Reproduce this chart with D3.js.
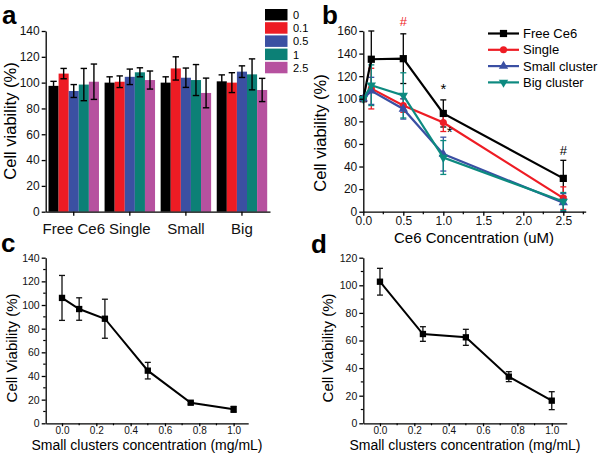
<!DOCTYPE html>
<html><head><meta charset="utf-8">
<script src="https://cdn.jsdelivr.net/npm/d3@7"></script>
<style>
body{margin:0;background:#fff;}
svg{display:block;font-family:Arial,"Liberation Sans",sans-serif;}
</style></head>
<body>
<svg id="chart" width="600" height="456"></svg>
<script>
// ---------- Panel a data ----------
const groupsA = ["Free Ce6", "Single", "Small", "Big"];
const levelsA = ["0", "0.1", "0.5", "1", "2.5"];
const valuesFreeA = [97.5, 107, 93.5, 98.5, 100.7];
const valuesSingleA = [100, 100.7, 104.5, 108, 102];
const valuesSmallA = [100, 111, 103.8, 102, 92];
const valuesBigA = [101, 100, 108.5, 106.4, 94.3];
const errFreeA = [3.5, 4, 5, 12.5, 13.7];
const errSingleA = [4.5, 4.5, 6, 3.5, 7];
const errSmallA = [4.5, 9, 7.5, 12, 11.5];
const errBigA = [5, 7.7, 4.5, 12, 9];
const yTicksA = [0, 20, 40, 60, 80, 100, 120, 140];

// ---------- Panel b data ----------
const concB = [0, 0.1, 0.5, 1.0, 2.5];
const seriesB = ["Free Ce6", "Single", "Small cluster", "Big cluster"];
const valuesFreeB = [100, 135, 135.5, 87, 29.5];
const valuesSingleB = [100, 109, 94, 79, 12];
const valuesSmallB = [100, 107, 91, 51, 8];
const valuesBigB = [100, 112, 103, 48, 9];
const errFreeB = [2, 25, 22, 12, 16];
const errSingleB = [2, 18, 6, 8, 10];
const errSmallB = [2, 12, 9, 15, 8];
const errBigB = [2, 18, 20, 15, 8];
const xTicksB = [0, 0.5, 1.0, 1.5, 2.0, 2.5];
const yTicksB = [0, 20, 40, 60, 80, 100, 120, 140, 160];

// ---------- Panel c data ----------
const concC = [0, 0.1, 0.25, 0.5, 0.75, 1.0];
const valuesC = [106, 96.6, 88.4, 44.5, 17.4, 11.8];
const errC = [19, 9.5, 16.5, 7, 1.2, 2.5];
const xTicksCD = [0, 0.2, 0.4, 0.6, 0.8, 1.0];
const yTicksC = [0, 20, 40, 60, 80, 100, 120, 140];

// ---------- Panel d data ----------
const concD = [0, 0.25, 0.5, 0.75, 1.0];
const valuesD = [102.6, 64.7, 62.3, 33.8, 16.4];
const errD = [9.7, 5.3, 5.8, 3.6, 6.5];
const yTicksD = [0, 20, 40, 60, 80, 100, 120];

// ---------- styling ----------
const barColors = ["#000000", "#ed1c24", "#3b50a2", "#0c8076", "#b6519f"];
const lineColors = ["#000000", "#ee1c24", "#3a4fa3", "#0d8a80"];
const FONT = 'Arial, "Liberation Sans", sans-serif';

const svg = d3.select("#chart");

function styleAxis(g, fs) {
  g.select(".domain").attr("stroke", "#000").attr("stroke-width", 1.3);
  g.selectAll(".tick line").attr("stroke", "#000").attr("stroke-width", 1.3);
  g.selectAll(".tick text").attr("font-size", fs).attr("font-family", FONT).attr("fill", "#111");
  g.attr("font-family", FONT);
}
function minorTicks(g, scale, vals, orient, len) {
  vals.forEach(v => {
    const p = scale(v);
    const l = orient === "left"
      ? g.append("line").attr("x1", 0).attr("x2", -len).attr("y1", p).attr("y2", p)
      : g.append("line").attr("y1", 0).attr("y2", len).attr("x1", p).attr("x2", p);
    l.attr("stroke", "#000").attr("stroke-width", 1.2);
  });
}
function panelLabel(txt, x, y) {
  svg.append("text").attr("x", x).attr("y", y).text(txt)
    .attr("font-size", 26).attr("font-weight", "bold").attr("font-family", FONT);
}
function vTitle(txt, x, y, fs) {
  svg.append("text").attr("transform", `translate(${x},${y}) rotate(-90)`)
    .attr("text-anchor", "middle").attr("font-size", fs).attr("font-family", FONT).text(txt);
}
function hTitle(txt, x, y, fs) {
  svg.append("text").attr("x", x).attr("y", y).attr("text-anchor", "middle")
    .attr("font-size", fs).attr("font-family", FONT).text(txt);
}

// =============== Panel a ===============
(function () {
  const dataA = [valuesFreeA, valuesSingleA, valuesSmallA, valuesBigA];
  const errA = [errFreeA, errSingleA, errSmallA, errBigA];
  const x = d3.scaleBand().domain(groupsA).range([45.7, 270]).paddingInner(0.1).paddingOuter(0.05);
  const xs = d3.scaleBand().domain(levelsA).range([0, x.bandwidth()]);
  const y = d3.scaleLinear().domain([0, 140]).range([211.7, 31]);
  const g = svg.append("g");
  groupsA.forEach((grp, gi) => {
    const gg = g.append("g").attr("transform", `translate(${x(grp)},0)`);
    levelsA.forEach((lv, li) => {
      const v = dataA[gi][li], e = errA[gi][li];
      gg.append("rect").attr("x", xs(lv)).attr("width", xs.bandwidth())
        .attr("y", y(v)).attr("height", y(0) - y(v)).attr("fill", barColors[li]);
      const cx = xs(lv) + xs.bandwidth() / 2;
      gg.append("line").attr("x1", cx).attr("x2", cx).attr("y1", y(v - e)).attr("y2", y(v + e))
        .attr("stroke", "#000").attr("stroke-width", 1.4);
      [v - e, v + e].forEach(t => gg.append("line").attr("x1", cx - 3.2).attr("x2", cx + 3.2)
        .attr("y1", y(t)).attr("y2", y(t)).attr("stroke", "#000").attr("stroke-width", 1.4));
    });
  });
  const ax = svg.append("g").attr("transform", "translate(45.7,0)")
    .call(d3.axisLeft(y).tickValues(yTicksA).tickSize(4).tickPadding(2).tickSizeOuter(0));
  styleAxis(ax, 12);
  const bx = svg.append("g").attr("transform", "translate(0,211.7)")
    .call(d3.axisBottom(x).tickSize(4).tickSizeOuter(0).tickPadding(5));
  styleAxis(bx, 15);
  bx.selectAll(".tick text").attr("dy", "0.9em");
  vTitle("Cell viability (%)", 16, 121, 16.5);
  panelLabel("a", 2, 24);
  const lg = svg.append("g");
  levelsA.forEach((lv, i) => {
    lg.append("rect").attr("x", 265).attr("y", 9 + i * 13.2).attr("width", 22.5).attr("height", 11.5)
      .attr("fill", barColors[i]);
    lg.append("text").attr("x", 293).attr("y", 9 + i * 13.2 + 10).attr("font-size", 11)
      .attr("font-family", FONT).text(lv);
  });
})();

// =============== Panel b ===============
(function () {
  const vals = [valuesFreeB, valuesSingleB, valuesSmallB, valuesBigB];
  const errs = [errFreeB, errSingleB, errSmallB, errBigB];
  const x = d3.scaleLinear().domain([0, 2.78]).range([363.3, 585.7]);
  const y = d3.scaleLinear().domain([0, 160]).range([211.7, 31]);
  const symbols = [d3.symbolSquare, d3.symbolCircle, d3.symbolTriangle, d3.symbolTriangle];
  const sizes = [52, 40, 38, 38];
  const line = d3.line().x(d => x(d[0])).y(d => y(d[1]));
  const order = [0, 1, 2, 3];
  order.forEach(si => {
    const col = lineColors[si];
    concB.forEach((c, i) => {
      const v = vals[si][i], e = errs[si][i], px = x(c);
      svg.append("line").attr("x1", px).attr("x2", px).attr("y1", y(v - e)).attr("y2", y(v + e))
        .attr("stroke", col).attr("stroke-width", 1.3);
      [v - e, v + e].forEach(t => svg.append("line").attr("x1", px - 3).attr("x2", px + 3)
        .attr("y1", y(t)).attr("y2", y(t)).attr("stroke", col).attr("stroke-width", 1.3));
    });
  });
  order.forEach(si => {
    const col = lineColors[si];
    const pts = concB.map((c, i) => [c, vals[si][i]]);
    svg.append("path").attr("d", line(pts)).attr("fill", "none").attr("stroke", col).attr("stroke-width", 2.2);
    pts.forEach(p => {
      svg.append("path").attr("d", d3.symbol().type(symbols[si]).size(sizes[si])())
        .attr("transform", `translate(${x(p[0])},${y(p[1])})${si === 3 ? " rotate(180)" : ""}`)
        .attr("fill", col);
    });
  });
  const ax = svg.append("g").attr("transform", "translate(363.3,0)")
    .call(d3.axisLeft(y).tickValues(yTicksB).tickSize(4).tickPadding(2).tickSizeOuter(0));
  styleAxis(ax, 12);
  const bx = svg.append("g").attr("transform", "translate(0,211.7)")
    .call(d3.axisBottom(x).tickValues(xTicksB).tickFormat(d3.format(".1f")).tickSize(4).tickPadding(1).tickSizeOuter(0));
  styleAxis(bx, 12);
  minorTicks(bx, x, [0.25, 0.75, 1.25, 1.75, 2.25, 2.75], "bottom", 2.5);
  vTitle("Cell viability (%)", 326, 133, 16.5);
  hTitle("Ce6 Concentration (uM)", 474, 242.5, 15);
  panelLabel("b", 322, 24);
  const ann = [["#", 0.5, 164, "#ee1c24"], ["*", 1.0, 104, "#000"], ["*", 1.08, 66, "#000"], ["#", 2.5, 50, "#000"]];
  ann.forEach(a => svg.append("text").attr("x", x(a[1])).attr("y", y(a[2])).attr("text-anchor", "middle")
    .attr("font-size", a[0] === "*" ? 15 : 13).attr("font-family", FONT).attr("fill", a[3]).text(a[0]));
  seriesB.forEach((s, i) => {
    const ly = 33.5 + i * 16.3;
    svg.append("line").attr("x1", 488).attr("x2", 519).attr("y1", ly).attr("y2", ly)
      .attr("stroke", lineColors[i]).attr("stroke-width", 2.2);
    svg.append("path").attr("d", d3.symbol().type(symbols[i]).size(sizes[i])())
      .attr("transform", `translate(503.5,${ly})${i === 3 ? " rotate(180)" : ""}`).attr("fill", lineColors[i]);
    svg.append("text").attr("x", 523).attr("y", ly + 4.6).attr("font-size", 13).attr("font-family", FONT).text(s);
  });
})();

// =============== Panels c & d ===============
function concPanel(opts) {
  const x = d3.scaleLinear().domain(opts.xd).range(opts.xr);
  const y = d3.scaleLinear().domain([0, opts.ymax]).range([423.3, 257.7]);
  const line = d3.line().x(d => x(d[0])).y(d => y(d[1]));
  const pts = opts.conc.map((c, i) => [c, opts.vals[i]]);
  pts.forEach((p, i) => {
    const e = opts.errs[i], px = x(p[0]);
    svg.append("line").attr("x1", px).attr("x2", px).attr("y1", y(p[1] - e)).attr("y2", y(p[1] + e))
      .attr("stroke", "#111").attr("stroke-width", 1.3);
    [p[1] - e, p[1] + e].forEach(t => svg.append("line").attr("x1", px - 3).attr("x2", px + 3)
      .attr("y1", y(t)).attr("y2", y(t)).attr("stroke", "#111").attr("stroke-width", 1.3));
  });
  svg.append("path").attr("d", line(pts)).attr("fill", "none").attr("stroke", "#000").attr("stroke-width", 2);
  pts.forEach(p => svg.append("path").attr("d", d3.symbol().type(d3.symbolSquare).size(40)())
    .attr("transform", `translate(${x(p[0])},${y(p[1])})`).attr("fill", "#000"));
  const ax = svg.append("g").attr("transform", `translate(${opts.xr[0]},0)`)
    .call(d3.axisLeft(y).tickValues(opts.yticks).tickSize(4).tickPadding(2).tickSizeOuter(0));
  styleAxis(ax, 10.5);
  minorTicks(ax, y, opts.yticks.slice(0, -1).map(t => t + 10), "left", 2.5);
  const bx = svg.append("g").attr("transform", "translate(0,423.3)")
    .call(d3.axisBottom(x).tickValues(xTicksCD).tickFormat(d3.format(".1f")).tickSize(3).tickPadding(1).tickSizeOuter(0));
  styleAxis(bx, 10);
  minorTicks(bx, x, [0.1, 0.3, 0.5, 0.7, 0.9], "bottom", 2);
  vTitle("Cell Viability (%)", opts.ytx, 348, 15);
  hTitle("Small clusters concentration (mg/mL)", opts.xtx, 449.5, 14);
}
concPanel({ conc: concC, vals: valuesC, errs: errC, xd: [-0.095, 1.085], xr: [45.7, 248.2],
  ymax: 140, yticks: yTicksC, ytx: 17, xtx: 147 });
concPanel({ conc: concD, vals: valuesD, errs: errD, xd: [-0.097, 1.087], xr: [363.3, 566.7],
  ymax: 120, yticks: yTicksD, ytx: 333, xtx: 465 });
panelLabel("c", 1, 252);
panelLabel("d", 311, 253);
</script>
</body></html>
